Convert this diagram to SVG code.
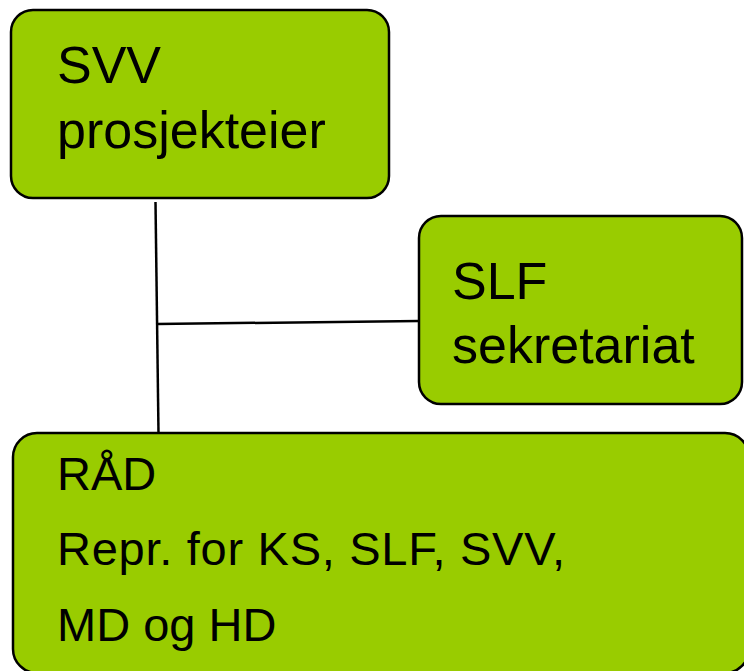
<svg xmlns="http://www.w3.org/2000/svg" width="744" height="671" viewBox="0 0 744 671">
<style>
.box{fill:#99CC00;stroke:#000;stroke-width:2.5}
.t{font-family:"Liberation Sans",Arial,sans-serif;fill:#000}
.big{font-size:52px}
.mid{font-size:47px}
.conn{stroke:#000;stroke-width:2.5;fill:none}
</style>
<rect width="744" height="671" fill="#fff"/>
<g id="connectors">
<line class="conn" x1="155.5" y1="202" x2="158.5" y2="433"/>
<line class="conn" x1="157" y1="324" x2="419" y2="321"/>
</g>
<g id="node-svv">
<rect class="box" x="11" y="10" width="378" height="188" rx="22"/>
<text class="t big" x="57" y="83">SVV</text>
<text class="t big" x="57" y="148">prosjekteier</text>
</g>
<g id="node-slf">
<rect class="box" x="419" y="216" width="323" height="188" rx="22"/>
<text class="t big" x="452" y="299">SLF</text>
<text class="t big" x="452" y="363">sekretariat</text>
</g>
<g id="node-rad">
<rect class="box" x="13" y="433" width="736" height="240" rx="24"/>
<text class="t mid" x="57" y="490">RÅD</text>
<text class="t mid" x="57" y="565" textLength="508" lengthAdjust="spacing">Repr. for KS, SLF, SVV,</text>
<text class="t mid" x="57" y="641">MD og HD</text>
</g>
</svg>
